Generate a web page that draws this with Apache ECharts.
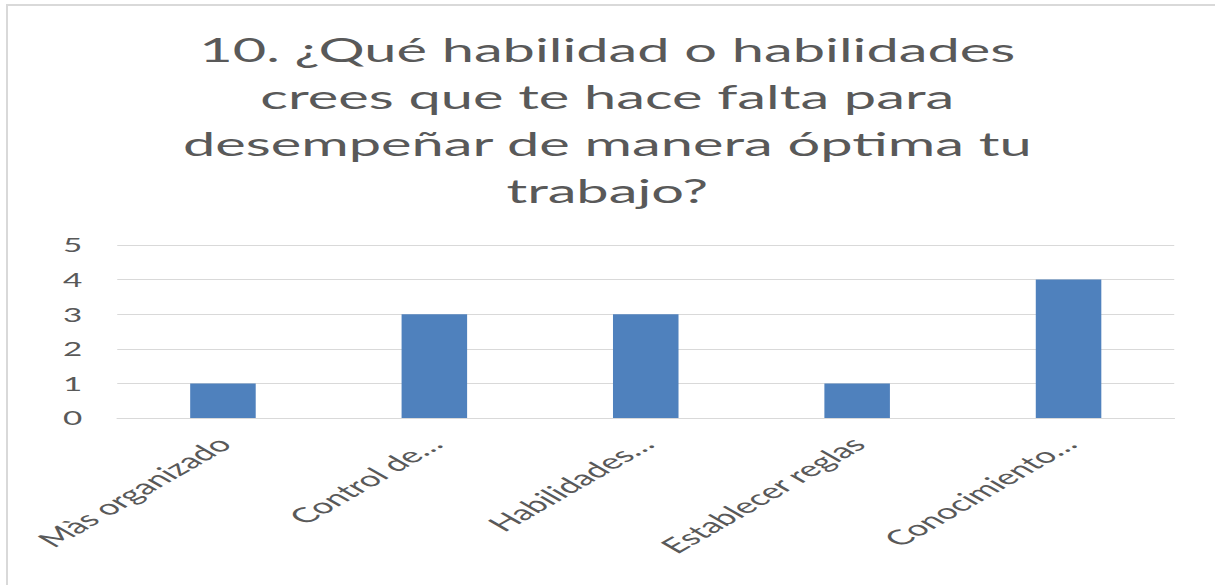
<!DOCTYPE html>
<html>
<head>
<meta charset="utf-8">
<script src="https://cdn.jsdelivr.net/npm/echarts@6/dist/echarts.min.js"></script>
<style>
  html, body { margin: 0; padding: 0; background: #fff; overflow: hidden; }
  /* marco gris del gráfico original */
  .frame {
    position: absolute; left: 6px; top: 4px; width: 1300px; height: 700px;
    border: 2px solid #d9d9d9; box-sizing: border-box;
  }
  /* la imagen de referencia está estirada en horizontal */
  .chart {
    position: absolute; left: 0; top: 0; width: 694px; height: 585px;
    transform: scaleX(1.75); transform-origin: 0 0;
  }
</style>
</head>
<body>
<div class="frame"></div>
<div class="chart" id="main"></div>
<script>
// datos del gráfico
const titulo = '10. ¿Qué habilidad o habilidades\ncrees que te hace falta para\ndesempeñar de manera óptima tu\ntrabajo?'
const categorias = ['Màs organizado', 'Control de…', 'Habilidades…', 'Establecer reglas', 'Conocimiento…']
const valores = [1, 3, 3, 1, 4]

const chart = echarts.init(document.getElementById('main'), null, { renderer: 'svg' })

const option = {
  animation: false,
  textStyle: { fontFamily: 'Lato' },
  title: {
    text: titulo,
    left: 'center',
    top: 21,
    textStyle: {
      fontFamily: 'Lato',
      fontSize: 33,
      fontWeight: 'normal',
      color: '#595959',
      lineHeight: 47
    }
  },
  grid: {
    left: 67,
    right: 23,
    top: 245,
    bottom: 167,
    containLabel: false
  },
  xAxis: {
    type: 'category',
    data: categorias,
    axisLine: { lineStyle: { color: '#d9d9d9', width: 1 } },
    axisTick: { show: false },
    axisLabel: {
      rotate: 45,
      margin: 22,
      fontSize: 21,
      color: '#595959',
      fontFamily: 'Lato'
    }
  },
  yAxis: {
    type: 'value',
    min: 0,
    max: 5,
    interval: 1,
    axisLine: { show: false },
    axisTick: { show: false },
    splitLine: { lineStyle: { color: '#d9d9d9', width: 1 } },
    axisLabel: {
      margin: 20,
      fontSize: 19,
      color: '#595959',
      fontFamily: 'Lato'
    }
  },
  series: [
    {
      type: 'bar',
      data: valores,
      barWidth: '31%',
      itemStyle: { color: '#4f81bd' }
    }
  ]
}

chart.setOption(option)
</script>
</body>
</html>
